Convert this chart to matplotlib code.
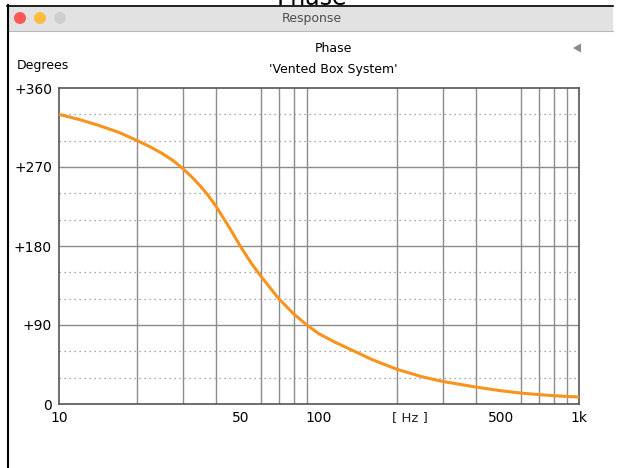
import numpy as np
import matplotlib
matplotlib.use("Agg")
import matplotlib.pyplot as plt
from matplotlib.patches import Rectangle, Circle, Polygon

# phase curve (Hz, degrees)
freq = [10, 12, 14, 17, 20, 22.5, 25, 27.5, 30, 32.5, 35, 37.5, 40, 45, 50, 55, 60, 70, 80, 90, 100,
        115, 137, 160, 200, 250, 300, 400, 500, 600, 700, 800, 900, 1000]
phase = [330, 324, 318, 309.5, 300, 292.8, 285.2, 277.2, 268, 258.3, 248.2, 237.5, 226, 202, 179, 160,
         145, 120, 102.5, 89.8, 80, 70.5, 60, 50.6, 39.4, 30.9, 25.6, 19.4, 15.1, 12.4, 10.7, 9.5, 8.6, 8]

yticks = [0, 90, 180, 270, 360]
ylabels = ["0", "+90", "+180", "+270", "+360"]
xticks = [10, 50, 100, 500, 1000]
xlabels = ["10", "50", "100", "500", "1k"]
minor_x = [20, 30, 40, 60, 70, 80, 90, 200, 300, 400, 600, 700, 800, 900]
minor_y = [30, 60, 120, 150, 210, 240, 300, 330]

W, H = 617, 468
FONT = "DejaVu Sans"
fig = plt.figure(figsize=(W / 100, H / 100), dpi=100)
fig.patch.set_facecolor("white")

# window chrome, drawn in pixel coordinates
bg = fig.add_axes([0, 0, 1, 1])
bg.set_xlim(0, W); bg.set_ylim(H, 0); bg.axis("off")
bg.add_patch(Rectangle((7, 5), 606, 26, facecolor="#e2e2e2", edgecolor="none", zorder=2))
bg.text(312, 5, "Phase", ha="center", va="baseline", fontsize=17, color="black", family=FONT, zorder=5)
bg.plot([7, 613], [5.5, 5.5], color="black", lw=1.2, zorder=3)
bg.plot([7, 613], [31, 31], color="#b8b8b8", lw=0.8, zorder=3)
bg.plot([7.5, 7.5], [5, H], color="black", lw=1.5, zorder=3)
for cx, col in [(20, "#fc5753"), (40, "#fdbc40"), (60, "#cfcfcf")]:
    bg.add_patch(Circle((cx, 18), 6, facecolor=col, edgecolor="none", zorder=3))
bg.text(312, 18.5, "Response", ha="center", va="center", fontsize=9, color="#4d4d4d", family=FONT, zorder=4)
bg.text(333, 48, "Phase", ha="center", va="center", fontsize=9, family=FONT)
bg.text(333, 70, "'Vented Box System'", ha="center", va="center", fontsize=9, family=FONT)
bg.text(17, 66, "Degrees", ha="left", va="center", fontsize=9, family=FONT)
bg.add_patch(Polygon([[573, 48], [581, 43.5], [581, 52.5]], closed=True, facecolor="#8a8a8a", edgecolor="none"))
bg.text(410, 418, "[ Hz ]", ha="center", va="center", fontsize=9.5, color="#222222", family=FONT)

ax = fig.add_axes([59 / W, 1 - 404 / H, (579 - 59) / W, (404 - 88) / H])
ax.set_xscale("log")
ax.set_xlim(10, 1000)
ax.set_ylim(0, 360)
for f in minor_x:
    ax.axvline(f, color="#8c8c8c", lw=1.0, zorder=1)
for d in yticks[1:-1]:
    ax.axhline(d, color="#8c8c8c", lw=1.0, zorder=1)
for d in minor_y:
    ax.axhline(d, color="#8c8c8c", lw=0.9, ls=(0, (1, 3)), zorder=1)
ax.plot(freq, phase, color="#f7931e", lw=2.2, solid_capstyle="round", solid_joinstyle="round", zorder=3)

ax.set_yticks(yticks)
ax.set_yticklabels(ylabels, family=FONT, fontsize=10)
ax.set_xticks(xticks)
ax.set_xticklabels(xlabels, family=FONT, fontsize=10)
ax.xaxis.set_minor_locator(matplotlib.ticker.NullLocator())
ax.tick_params(length=0, pad=5)
for s in ax.spines.values():
    s.set_color("#555555")
    s.set_linewidth(1.2)

fig.savefig("out.png", dpi=100)
